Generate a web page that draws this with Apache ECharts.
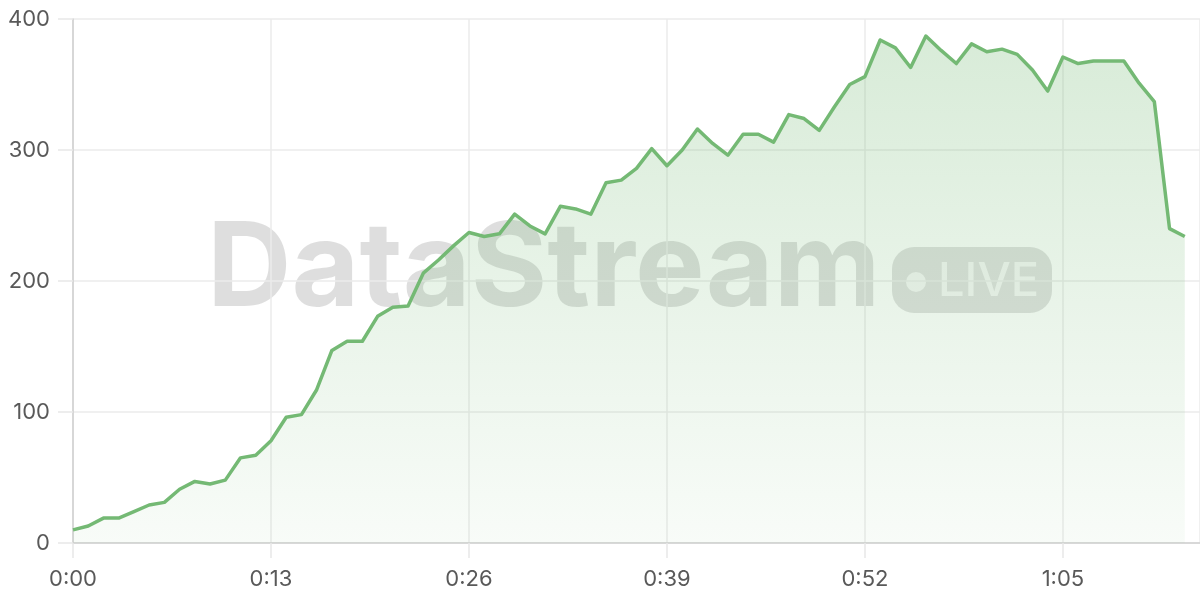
<!DOCTYPE html>
<html>
<head>
<meta charset="utf-8">
<script src="https://cdn.jsdelivr.net/npm/echarts@6/dist/echarts.min.js"></script>
<style>
html,body{margin:0;padding:0;background:#fff;}
#chart{width:1200px;height:600px;}
</style>
</head>
<body>
<div id="chart"></div>
<script>
// seconds since start
const seconds = [0,1,2,3,4,5,6,7,8,9,10,11,12,13,14,15,16,17,18,19,20,21,22,23,24,25,26,27,28,29,30,31,32,33,34,35,36,37,38,39,40,41,42,43,44,45,46,47,48,49,50,51,52,53,54,55,56,57,58,59,60,61,62,63,64,65,66,67,68,69,70,71,72,73];
const values = [10,13,19,19,24,29,31,41,47,45,48,65,67,78,96,98,117,147,154,154,173,180,181,206,216,227,237,234,236,251,242,236,257,255,251,275,277,286,301,288,300,316,305,296,312,312,306,327,324,315,333,350,356,384,378,363,387,376,366,381,375,377,373,361,345,371,366,368,368,368,351,337,240,234];
const xTickLabels = ['0:00','0:13','0:26','0:39','0:52','1:05'];
const yTickLabels = ['0','100','200','300','400'];

const chart = echarts.init(document.getElementById('chart'));
const fmt = s => Math.floor(s/60) + ':' + String(s%60).padStart(2,'0');
const data = seconds.map((s,i)=>[s, values[i]]);
const labelFont = 'Inter, "Noto Sans", sans-serif';

chart.setOption({
  animation:false,
  backgroundColor:'#fff',
  grid:{left:73,right:0,top:19,bottom:57,containLabel:false},
  xAxis:{
    type:'value', min:0, max:74, interval:13,
    axisLine:{show:true,lineStyle:{color:'#cfcfcf',width:1.5}},
    axisTick:{show:true,length:15,lineStyle:{color:'#e8e8e8',width:1.5}},
    splitLine:{show:true,lineStyle:{color:'#ebebeb',width:1.5}},
    axisLabel:{
      showMaxLabel:false,
      margin:25, fontSize:22, color:'#595959', fontFamily:labelFont,
      formatter:v=>{const l=fmt(v); return xTickLabels.includes(l)?l:'';}
    }
  },
  yAxis:{
    type:'value', min:0, max:400, interval:100,
    axisLine:{show:true,lineStyle:{color:'#cfcfcf',width:1.5}},
    axisTick:{show:true,length:15,lineStyle:{color:'#e8e8e8',width:1.5}},
    splitLine:{show:true,lineStyle:{color:'#ebebeb',width:1.5}},
    axisLabel:{
      margin:23, fontSize:22, color:'#595959', fontFamily:labelFont,
      formatter:v=>{const l=String(v); return yTickLabels.includes(l)?l:'';}
    }
  },
  graphic:[
    {type:'text', left:207, top:212, z:-1, silent:true,
     style:{text:'DataStream', fontSize:117, fontWeight:'bold', fontFamily:'Inter, "Noto Sans", sans-serif', fill:'rgba(0,0,0,0.13)'}},
    {type:'group', left:892, top:247, z:-1, silent:true, children:[
      {type:'rect', shape:{x:0,y:0,width:160,height:66,r:22}, style:{fill:'rgba(0,0,0,0.12)'}},
      {type:'circle', shape:{cx:24,cy:35,r:10}, style:{fill:'rgba(255,255,255,0.7)'}},
      {type:'text', x:46, y:35, style:{text:'LIVE', fontSize:47, fontWeight:500, fontFamily:'Inter, "Noto Sans", sans-serif', fill:'rgba(255,255,255,0.7)', verticalAlign:'middle'}}
    ]}
  ],
  series:[{
    type:'line',
    data:data,
    showSymbol:false,
    symbol:'none',
    z:5,
    lineStyle:{color:'#74b974',width:3.5,join:'round'},
    areaStyle:{
      color:new echarts.graphic.LinearGradient(0,0,0,1,[
        {offset:0,color:'rgba(116,185,116,0.40)'},
        {offset:1,color:'rgba(116,185,116,0.07)'}
      ])
    }
  }]
});
</script>
</body>
</html>
